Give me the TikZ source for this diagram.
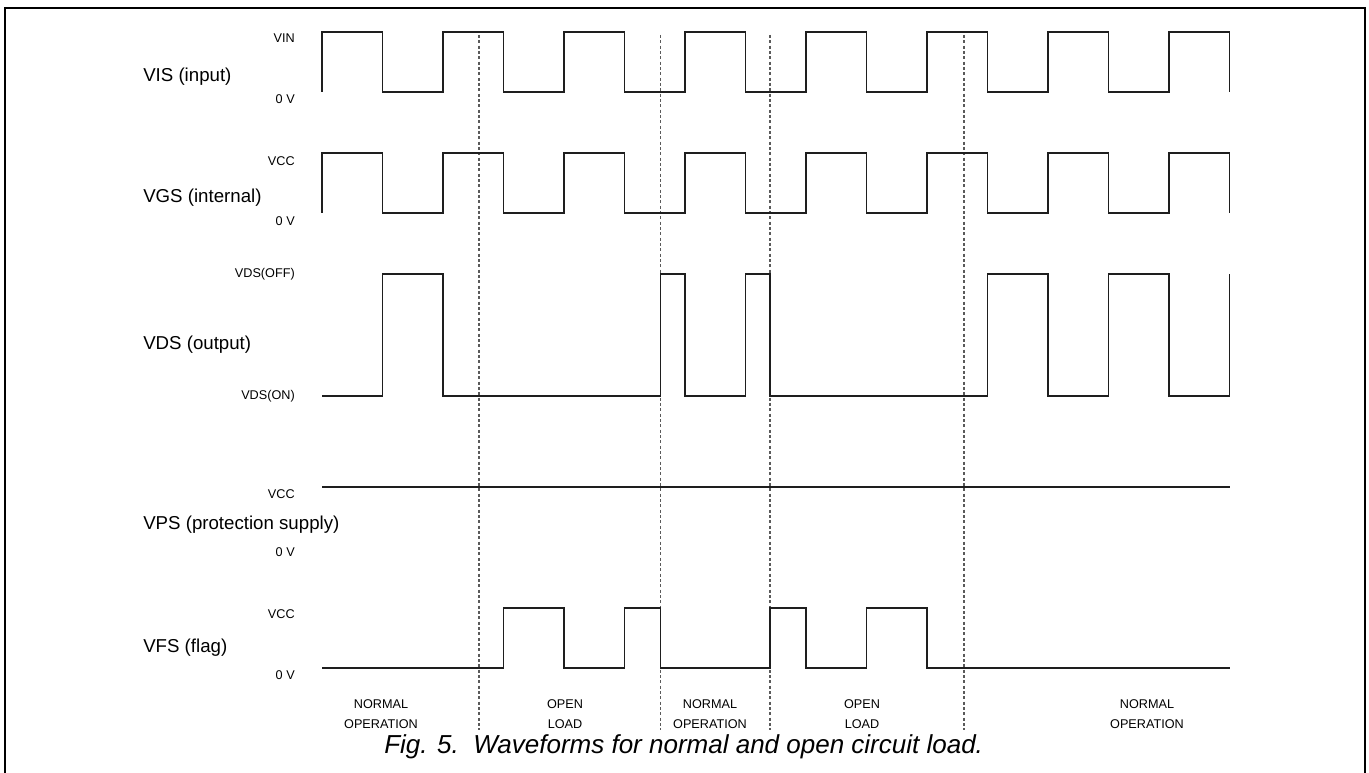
\documentclass[tikz,border=0pt]{standalone}
\usepackage{fontspec}
\setmainfont{Liberation Sans}
\usepackage{tikz}

\begin{document}
\begin{tikzpicture}[x=0.75pt,y=0.75pt,yscale=-1,xscale=1,
  wave/.style={line width=0.9pt,color={rgb,255:red,30;green,30;blue,30}},
  divider/.style={line width=0.8pt,color={rgb,255:red,90;green,90;blue,90},dash pattern=on 2.2pt off 1.8pt},
  siglbl/.style={anchor=west,inner sep=0.75pt,font=\fontsize{14}{16}\selectfont},
  levlbl/.style={anchor=east,inner sep=0.75pt,font=\fontsize{9.5}{11}\selectfont},
  modelbl/.style={align=center,inner sep=0.75pt,font=\fontsize{9.5}{15}\selectfont}]
\useasboundingbox (0,0) rectangle (1369,773);

%Shape: Frame
\draw [line width=2.2pt] (5,785) -- (5,8) -- (1365,8) -- (1365,785);

%Straight Lines: mode dividers
\draw [divider] (479,35) -- (479,730);
\draw [divider] (660.5,35) -- (660.5,730);
\draw [divider] (770,35) -- (770,730);
\draw [divider] (964,35) -- (964,730);

%Shape: VIS square wave
\draw [wave] (322,92) \foreach \k in {0,2,...,14} { -- ({322+60.5*\k},92) -- ({322+60.5*\k},32) -- ({322+60.5*(\k+1)},32) -- ({322+60.5*(\k+1)},92) };
%Shape: VGS square wave
\draw [wave] (322,213) \foreach \k in {0,2,...,14} { -- ({322+60.5*\k},213) -- ({322+60.5*\k},153) -- ({322+60.5*(\k+1)},153) -- ({322+60.5*(\k+1)},213) };
%Shape: VDS waveform
\draw [wave] (322,396) -- (382.5,396) -- (382.5,274) -- (443,274) -- (443,396) -- (660.5,396) -- (660.5,274) -- (685,274) -- (685,396) -- (745.5,396) -- (745.5,274) -- (770,274) -- (770,396) -- (987.5,396) -- (987.5,274) -- (1048,274) -- (1048,396) -- (1108.5,396) -- (1108.5,274) -- (1169,274) -- (1169,396) -- (1229.5,396) -- (1229.5,274);
%Straight Lines: VPS
\draw [wave] (322,487) -- (1229.5,487);
%Shape: VFS waveform
\draw [wave] (322,668) -- (503.5,668) -- (503.5,608) -- (564,608) -- (564,668) -- (624.5,668) -- (624.5,608) -- (660.5,608) -- (660.5,668) -- (770,668) -- (770,608) -- (806,608) -- (806,668) -- (866.5,668) -- (866.5,608) -- (927,608) -- (927,668) -- (1229.5,668);

% Text Node
\node [siglbl] (vis) at (142,77) {VIS (input)};
\node [siglbl] (vgs) at (142,198) {VGS (internal)};
\node [siglbl] (vds) at (142,345) {VDS (output)};
\node [siglbl] (vps) at (142,525) {VPS (protection supply)};
\node [siglbl] (vfs) at (142,648) {VFS (flag)};
% Text Node
\node [levlbl] (vishi) at (296,38) {VIN};
\node [levlbl] (vislo) at (296,99) {0 V};
\node [levlbl] (vgshi) at (296,161) {VCC};
\node [levlbl] (vgslo) at (296,221) {0 V};
\node [levlbl] (vdshi) at (296,274) {VDS(OFF)};
\node [levlbl] (vdslo) at (296,396) {VDS(ON)};
\node [levlbl] (vpshi) at (296,494) {VCC};
\node [levlbl] (vpslo) at (296,552) {0 V};
\node [levlbl] (vfshi) at (296,614) {VCC};
\node [levlbl] (vfslo) at (296,675) {0 V};
% Text Node
\node [modelbl] (mode1) at (381,714) {NORMAL\\OPERATION};
\node [modelbl] (mode2) at (565,714) {OPEN\\LOAD};
\node [modelbl] (mode3) at (710,714) {NORMAL\\OPERATION};
\node [modelbl] (mode4) at (862,714) {OPEN\\LOAD};
\node [modelbl] (mode5) at (1147,714) {NORMAL\\OPERATION};
% Text Node
\node [anchor=west,inner sep=0.75pt,font=\fontsize{19.5}{22}\selectfont\itshape] (caption) at (383,747) {Fig. 5.\ \ Waveforms for normal and open circuit load.};

\end{tikzpicture}
\end{document}
